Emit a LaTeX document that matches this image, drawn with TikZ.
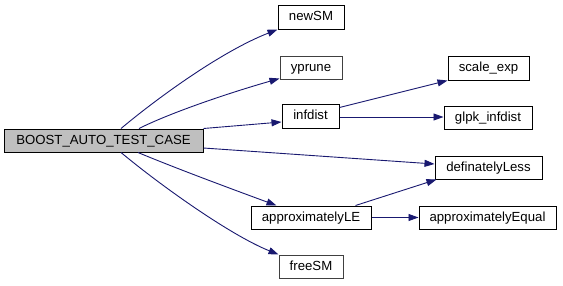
\documentclass[tikz,border=0pt]{standalone}
\usepackage{fontspec}
\setmainfont{Liberation Sans}
\usetikzlibrary{arrows.meta}
\definecolor{edgeblue}{HTML}{191970}
\definecolor{rootfill}{HTML}{BFBFBF}
\tikzset{
  fn/.style={draw=black, line width=1pt, fill=white, inner sep=0pt,
    font=\fontsize{13.2}{15}\selectfont, text height=9.5pt, text depth=2.5pt,
    minimum height=23pt},
  fnplain/.style={fn, draw=black!75},
  root/.style={fn, fill=rootfill},
  call/.style={draw=edgeblue, line width=0.9pt,
    -{Triangle[length=10pt,width=7pt]}},
}
\begin{document}
\begin{tikzpicture}[x=1pt, y=-1pt]
\useasboundingbox (0,0) rectangle (563,285);

% caller
\node[root, minimum width=199pt] (boost) at (103.5,140.5) {BOOST\_AUTO\_TEST\_CASE};

% callees
\node[fn, minimum width=66pt, minimum height=24pt] (newSM) at (311,17) {newSM};
\node[fnplain, minimum width=62pt] (yprune) at (311,67.5) {yprune};
\node[fn, minimum width=57pt, minimum height=24pt] (infdist) at (310.5,116) {infdist};
\node[fn, minimum width=81pt, minimum height=24pt] (scaleexp) at (488.5,68) {scale\_exp};
\node[fn, minimum width=88pt] (glpk) at (488,117.5) {glpk\_infdist};
\node[fn, minimum width=107pt] (defless) at (488.5,167.5) {definatelyLess};
\node[fn, minimum width=120pt] (approxle) at (311,217.5) {approximatelyLE};
\node[fn, minimum width=137pt] (approxeq) at (487.5,217.5) {approximatelyEqual};
\node[fnplain, minimum width=64pt] (freeSM) at (311,266.5) {freeSM};

% calls from the test case
\draw[call] ([xshift=17.5pt]boost.north) .. controls (155,100) and (220,52) .. (newSM.south west);
\draw[call] ([xshift=35.5pt]boost.north) .. controls (172,112) and (232,92) .. ([yshift=1pt]yprune.south west);
\draw[call] (boost.north east) -- ([yshift=-6pt]infdist.west);
\draw[call] ([yshift=-7.5pt]boost.east) -- ([yshift=3.5pt]defless.west);
\draw[call] ([xshift=34.5pt]boost.south) .. controls (180,170) and (240,192) .. ([xshift=26pt]approxle.north west);
\draw[call] ([xshift=17.5pt]boost.south) .. controls (160,185) and (230,235) .. (freeSM.north west);

% nested calls
\draw[call] ([yshift=-4pt]infdist.north east) -- (scaleexp.south west);
\draw[call] ([yshift=-1pt]infdist.east) -- ([yshift=-1pt]infdist.east -| glpk.west);
\draw[call] ([xshift=-16pt]approxle.north east) -- ([xshift=2pt]defless.south west);
\draw[call] (approxle.east) -- (approxeq.west);
\end{tikzpicture}
\end{document}
